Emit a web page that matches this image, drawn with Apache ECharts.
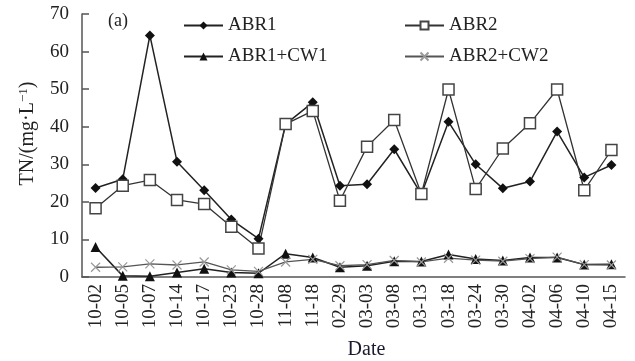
<!DOCTYPE html>
<html>
<head>
<meta charset="utf-8">
<title>TN</title>
<script src="https://cdn.jsdelivr.net/npm/echarts@6/dist/echarts.min.js"></script>
<style>
  html, body { margin: 0; padding: 0; background: #fff; }
  #main { width: 635px; height: 361px; }
</style>
</head>
<body>
<div id="main"></div>
<script>
/* 数据 */
var dates = ['10-02', '10-05', '10-07', '10-14', '10-17', '10-23', '10-28', '11-08', '11-18', '02-29',
  '03-03', '03-08', '03-13', '03-18', '03-24', '03-30', '04-02', '04-06', '04-10', '04-15'];
var abr1 = [23.7, 26, 64.3, 30.7, 23.1, 15.3, 10.2, 40.7, 46.5, 24.3, 24.7, 34, 22, 41.3, 30, 23.6, 25.4, 38.7, 26.5, 29.8];
var abr2 = [18.3, 24.3, 25.8, 20.5, 19.4, 13.4, 7.6, 40.7, 44.2, 20.3, 34.7, 41.8, 22.1, 49.9, 23.4, 34.2, 40.9, 49.9, 23.1, 33.8];
var abr1cw1 = [8, 0.3, 0.2, 1.2, 2.2, 1.2, 1, 6.2, 5.2, 2.6, 3.0, 4.2, 4.1, 6.0, 4.8, 4.4, 5.2, 5.2, 3.3, 3.4];
var abr2cw2 = [2.6, 2.7, 3.5, 3.2, 4, 1.9, 1.5, 4, 4.7, 3, 3.3, 4.4, 4, 5, 4.5, 4.2, 4.9, 5.3, 3.3, 3.2];
var yTicks = [0, 10, 20, 30, 40, 50, 60, 70];

var font = 'Liberation Serif';
var crossSymbol = 'path://M0,0L10,10M10,0L0,10';

var myChart = echarts.init(document.getElementById('main'));
var option = {
  animation: false,
  backgroundColor: '#fff',
  textStyle: { fontFamily: font, color: '#222' },
  // 坐标区固定位置，不让标签挤压
  grid: { left: 82, right: 10, top: 14, bottom: 84, containLabel: false, outerBoundsMode: 'none' },
  graphic: [{
    type: 'text', left: 108, top: 12,
    style: { text: '(a)', font: '18px "Liberation Serif"', fill: '#222' }
  }],
  /* 图例分两列 */
  legend: [{
    data: ['ABR1', 'ABR1+CW1'],
    orient: 'vertical', left: 183, top: 16, padding: 0,
    itemWidth: 39, itemHeight: 10, itemGap: 12,
    textStyle: { fontFamily: font, fontSize: 19, color: '#222' }
  }, {
    data: ['ABR2', 'ABR2+CW2'],
    orient: 'vertical', left: 404, top: 16, padding: 0,
    itemWidth: 39, itemHeight: 10, itemGap: 12,
    textStyle: { fontFamily: font, fontSize: 19, color: '#222' }
  }],
  xAxis: {
    type: 'category',
    data: dates,
    name: 'Date',
    nameLocation: 'middle',
    nameGap: 63,
    nameTextStyle: { fontFamily: font, fontSize: 20, color: '#1a1a2e', padding: [0, 0, 0, 26] },
    axisLine: { lineStyle: { color: '#555', width: 1.5 } },
    axisTick: { inside: true, length: 6, lineStyle: { color: '#555', width: 1.5 } },
    axisLabel: { rotate: 90, margin: 7, fontFamily: font, fontSize: 19, color: '#222', interval: 0 },
    splitLine: { show: false }
  },
  yAxis: {
    type: 'value',
    min: yTicks[0],
    max: yTicks[yTicks.length - 1],
    interval: 10,
    name: 'TN/(mg·L{sup|−1})',
    nameLocation: 'middle',
    nameGap: 44,
    nameTextStyle: {
      fontFamily: font, fontSize: 20, color: '#222', padding: [0, 0, 0, 24],
      rich: { sup: { fontFamily: font, fontSize: 13, verticalAlign: 'top', padding: [0, 0, 8, 0] } }
    },
    axisLine: { show: true, lineStyle: { color: '#555', width: 1.5 } },
    axisTick: { show: true, inside: true, length: 7, lineStyle: { color: '#555', width: 1.5 } },
    axisLabel: { margin: 13, fontFamily: font, fontSize: 19, color: '#222' },
    splitLine: { show: false }
  },
  series: [{
    name: 'ABR1', type: 'line', data: abr1,
    symbol: 'diamond', symbolSize: 10,
    lineStyle: { color: '#222', width: 1.5 },
    itemStyle: { color: '#111' }
  }, {
    name: 'ABR2', type: 'line', data: abr2,
    symbol: 'rect', symbolSize: 11,
    lineStyle: { color: '#333', width: 1.3 },
    itemStyle: { color: '#fff', borderColor: '#444', borderWidth: 1.5 }
  }, {
    name: 'ABR1+CW1', type: 'line', data: abr1cw1,
    symbol: 'triangle', symbolSize: 10,
    lineStyle: { color: '#222', width: 1.5 },
    itemStyle: { color: '#111' }
  }, {
    name: 'ABR2+CW2', type: 'line', data: abr2cw2,
    symbol: crossSymbol, symbolSize: 9,
    lineStyle: { color: '#555', width: 1.3 },
    itemStyle: { color: '#999', borderColor: '#999', borderWidth: 1.2 }
  }]
};
myChart.setOption(option);
</script>
</body>
</html>
